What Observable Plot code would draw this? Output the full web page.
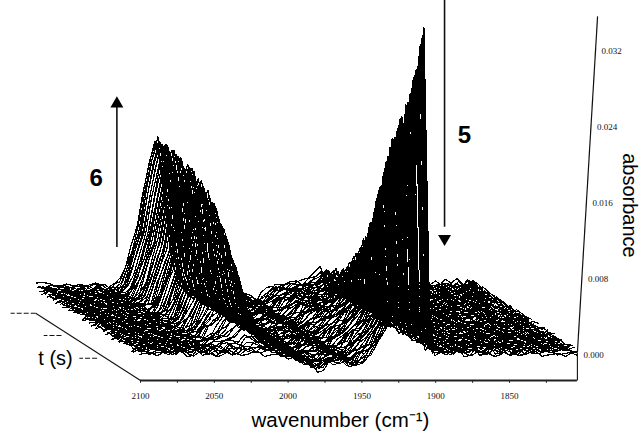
<!DOCTYPE html>
<html><head><meta charset="utf-8">
<style>html,body{margin:0;padding:0;background:#fff}svg{display:block}.traces path{shape-rendering:crispEdges}</style>
<script src="https://cdn.jsdelivr.net/npm/d3@7"></script>
<script src="https://cdn.jsdelivr.net/npm/@observablehq/plot@0.6"></script>
</head><body><div id="c"></div>
<script>
// wavenumber sampling of each spectrum (cm-1)
const wavenumbers = d3.range(2100, 1803, -4);
// band 6, normalised shape
const band6Waves = [2044,2040,2036,2032,2028,2024,2020,2016,2012,2008,2004];
const band6Shape = [.04,.15,.28,.41,.65,.85,1,.8,.45,.18,.05];
// band 5, normalised shape
const band5Waves = [1952,1948,1944,1940,1936,1932,1928,1924,1920,1916,1912,1908,1904];
const band5Shape = [.005,.01,.015,.02,.05,.09,.13,.2,.3,.42,.65,1,.08];
// baseline trough beside band 6 (mAbs)
const troughWaves = [2004,2000,1996,1992,1988,1984,1980,1976,1972,1968,1964,1960,1956,1952,1948,1944];
const troughDepth = [-.1,-.25,-.45,-.7,-1,-1.35,-1.6,-1.5,-1.25,-.95,-.85,-.95,-1.25,-1.4,-1,-.5];
// baseline rise at the low-wavenumber end, full size in the last spectrum (mAbs)
const driftWaves = [1880,1870,1860,1850,1840,1832,1824,1816,1808];
const driftSize  = [.1,.2,.25,.3,.35,.4,.5,.6,.7];
// band amplitudes, spectrum by spectrum, front to back (mAbs = value x peak)
const band6Peak = 15.6, band5Peak = 34.2;
const band6Amp = [0,0,.01,.01,.02,.03,.04,.05,.07,.09,
 .11,.13,.16,.18,.21,.23,.26,.28,.31,.33,
 .36,.38,.41,.43,.46,.48,.51,.53,.56,.58,
 .6,.62,.64,.66,.68,.69,.71,.72,.74,.75,
 .77,.78,.79,.8,.81,.82,.83,.84,.85,.86,
 .87,.875,.88,.885,.89,.895,.9,.905,.91,.915,
 .92,.925,.93,.935,.94,.943,.945,.948,.95,.953,
 .955,.958,.96,.963,.965,.968,.97,.973,.975,.978,
 .98,.98,.98,.983,.985,.985,.985,.988,.99,.99,
 .99,.993,.995,.995,.995,.998,1,1,1,1];
const band5Amp = [1,.98,.96,.94,.92,.9,.88,.865,.85,.83,
 .815,.8,.78,.765,.75,.74,.73,.72,.71,.7,
 .69,.68,.67,.66,.65,.64,.63,.62,.61,.6,
 .59,.575,.56,.545,.53,.515,.5,.485,.47,.455,
 .44,.425,.41,.395,.38,.365,.35,.335,.32,.31,
 .295,.28,.27,.26,.25,.24,.23,.22,.21,.2,
 .195,.19,.18,.17,.165,.155,.15,.145,.135,.13,
 .125,.12,.115,.11,.105,.1,.095,.09,.087,.085,
 .082,.08,.077,.075,.072,.07,.068,.065,.062,.06,
 .058,.055,.053,.05,.05,.05,.05,.05,.05,.05];
// baseline ripple (mAbs)
const ripple = [.2,-.3,.4,.05,-.2,.45,-.4,.1,.3,-.1,-.45,.25,.5,-.25,0,.35,-.35,.15,-.05,.42,-.15,.28,-.48,.08,.38,-.28,.18,-.08,.46,-.38,.02,.32,-.22,.12,-.42,.24,.44,-.12,-.32,.06,.36,-.02,-.18,.48,-.44,.22,.1];
// axes
const waveTicks = [2100,2050,2000,1950,1900,1850];
const waveMinor = d3.range(2100,1810,-25);
const absTicks = [0,.008,.016,.024,.032];
const timeTicks = [1,.67,.33];
// oblique projection: depth 0..1 moves a spectrum left and up
const depthWave = 71, depthAbs = .00695, floorAbs = -.00263, floorTrace = .0003, axisEnd = 1804, axisLean = 383;

const lookup = (ws,vs)=>new Map(ws.map((w,i)=>[w,vs[i]]));
const s6 = lookup(band6Waves,band6Shape), s5 = lookup(band5Waves,band5Shape), tr = lookup(troughWaves,troughDepth), dr = lookup(driftWaves,driftSize);
const rows = [];
band6Amp.forEach((a6,j)=>{
  if (j%10===9) return; // spectra drawn: 90 of the 100 listed
  const u = j/(band6Amp.length-1);
  wavenumbers.forEach((w,i)=>{
    const m = a6*band6Peak*(s6.get(w)||0) + band5Amp[j]*band5Peak*(s5.get(w)||0) + (tr.get(w)||0) + u*(dr.get(w)||0)
            + ripple[(i*7+j*13)%ripple.length];
    rows.push({j, x:w+depthWave*u, y:floorTrace+depthAbs*u+m/1000});
  });
});
const pxW = 1.476, pxA = 9500;
const fontS = "Liberation Sans, Arial, sans-serif";
const plot = Plot.plot({
  width:642, height:433, margin:0,
  x:{domain:[2100+140/pxW, 2100-(642-140)/pxW], range:[0,642], axis:null},
  y:{domain:[355/pxA, (355-433)/pxA], range:[0,433], axis:null},
  marks:[
    Plot.line(rows,{x:"x",y:"y",z:"j",stroke:"#000",strokeWidth:1.2,strokeLinejoin:"miter",curve:"linear",className:"traces"}),
    // floor axes
    Plot.ruleY([floorAbs],{x1:2100,x2:axisEnd,stroke:"#222",strokeWidth:1.8}),
    Plot.link([0],{x1:2100,y1:floorAbs,x2:2100+depthWave,y2:floorAbs+depthAbs+.00012,stroke:"#111",strokeWidth:1.1}),
    Plot.link(timeTicks,{x1:u=>2100+depthWave*u+(u==1?0:6),y1:u=>floorAbs+(depthAbs+.00012)*u,x2:u=>2100+depthWave*u+(u==1?17:18),y2:u=>floorAbs+(depthAbs+.00012)*u,stroke:"#111",strokeWidth:1.1,strokeDasharray:"5,2"}),
    Plot.ruleX(waveMinor,{y1:floorAbs,y2:floorAbs-.0003,stroke:"#222",strokeWidth:1}),
    Plot.text(waveTicks,{x:d=>d,y:-.0043,text:d=>String(d),fontFamily:"Liberation Serif",fontSize:9,fill:"#111"}),
    // absorbance axis
    Plot.link([0],{x1:axisEnd,y1:floorAbs,x2:axisEnd,y2:floorTrace,stroke:"#111",strokeWidth:1.1}),
    Plot.link([0],{x1:axisEnd,y1:floorTrace,x2:axisEnd-axisLean*.0357,y2:.0357,stroke:"#111",strokeWidth:1.2}),
    Plot.text(absTicks,{x:a=>axisEnd-axisLean*a,y:a=>a,dx:6,textAnchor:"start",text:a=>a.toFixed(3),fontFamily:"Liberation Serif",fontSize:9,fill:"#111"}),
    // annotations
    Plot.ruleX([2116],{y1:.01137,y2:.0262,stroke:"#111",strokeWidth:1.6}),
    Plot.dot([0],{x:2116,y:.0265,symbol:"triangle",r:4.8,fill:"#000",stroke:null}),
    Plot.ruleX([1894],{y1:.03737,y2:.0135,stroke:"#111",strokeWidth:1.6}),
    Plot.dot([0],{x:1894,y:.0123,symbol:"triangle",r:4.8,rotate:180,fill:"#000",stroke:null}),
    Plot.text(["6"],{x:2130,y:.0186,fontFamily:fontS,fontWeight:"bold",fontSize:24,fill:"#000"}),
    Plot.text(["5"],{x:1880.5,y:.02316,fontFamily:fontS,fontWeight:"bold",fontSize:24,fill:"#000"}),
    Plot.text(["t (s)"],{x:2157.6,y:-.0003,fontFamily:fontS,fontSize:20,fill:"#000"}),
    Plot.text(["wavenumber (cm⁻¹)"],{x:1964.5,y:-.00684,fontFamily:fontS,fontSize:20.5,fill:"#000"}),
    Plot.text(["absorbance"],{x:1768.5,y:.0158,rotate:90,fontFamily:fontS,fontSize:20,fill:"#000"})
  ]
});
document.getElementById("c").append(plot);
</script></body></html>
